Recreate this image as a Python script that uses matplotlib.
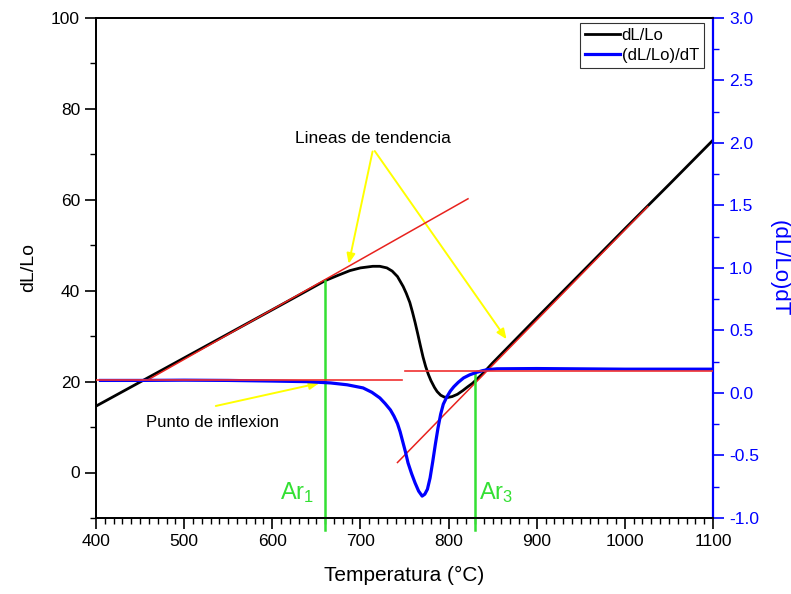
import matplotlib
matplotlib.use("Agg")
import matplotlib.pyplot as plt
from matplotlib.ticker import MultipleLocator, FormatStrFormatter

plt.rcParams['font.family'] = ['Liberation Sans', 'DejaVu Sans']
plt.rcParams['mathtext.fontset'] = 'custom'
plt.rcParams['mathtext.rm'] = 'Liberation Sans'
plt.rcParams['mathtext.it'] = 'Liberation Sans'

# dL/Lo curve (left axis)
T_dl = [400, 450, 500, 550, 600, 632, 660, 675, 688, 700, 714, 722, 730, 736, 742, 748.5,
        752, 756, 759, 762, 765, 768, 771, 774, 777, 780, 784, 787, 791, 795, 799, 804,
        810, 816, 822, 827, 832, 840, 850, 900, 950, 1000, 1050, 1100]
dl = [14.6, 19.9, 25.2, 30.5, 35.8, 39.2, 42.2, 43.4, 44.4, 45.0, 45.35, 45.35, 45.0, 44.3,
      43.1, 40.9, 39.4, 37.4, 35.3, 33.0, 30.5, 27.9, 25.4, 23.3, 21.6, 20.2, 18.7, 17.8,
      17.0, 16.6, 16.5, 16.7, 17.2, 18.0, 18.9, 19.6, 20.5, 22.0, 24.1, 34.0, 43.8, 53.6,
      63.3, 73.1]

# (dL/Lo)/dT curve (right axis)
T_d = [405, 450, 500, 550, 600, 640, 666, 685, 703, 713, 722, 728, 734, 738, 742, 745,
       748, 751, 754, 758, 762, 766, 770, 773, 776, 779, 782, 785, 788, 791, 794, 798,
       802, 806, 811, 817, 824, 832, 838, 844, 855, 900, 1000, 1100]
dd = [0.10, 0.10, 0.102, 0.10, 0.095, 0.09, 0.08, 0.065, 0.04, 0.005, -0.04, -0.085,
      -0.136, -0.185, -0.245, -0.31, -0.39, -0.47, -0.56, -0.645, -0.72, -0.785, -0.825,
      -0.81, -0.77, -0.68, -0.55, -0.41, -0.28, -0.17, -0.09, -0.032, 0.015, 0.05, 0.085,
      0.12, 0.145, 0.165, 0.177, 0.186, 0.193, 0.195, 0.19, 0.19]

# trend lines
tend1_T = [460, 822]
tend1_v = [20.5, 60.2]
tend2_T = [742, 1026]
tend2_v = [2.2, 58.5]
hline1_T = [400, 747]
hline1_v = [0.107, 0.107]
hline2_T = [751, 1100]
hline2_v = [0.176, 0.176]

# transformation temperatures
Ar1_T, Ar1_top = 660, 42.2
Ar3_T, Ar3_top = 830, 22.2

fig = plt.figure(figsize=(7.91, 5.94), dpi=100)
ax = fig.add_axes([0.1214, 0.128, 0.780, 0.842])
ax2 = ax.twinx()

blue = '#0000ff'
green = '#33e033'
red = '#e8221e'

l1, = ax.plot(T_dl, dl, color='black', lw=2.0, zorder=3, solid_joinstyle='round')
ax.plot(tend1_T, tend1_v, color=red, lw=1.1, zorder=4)
ax.plot(tend2_T, tend2_v, color=red, lw=1.1, zorder=4)

l2, = ax2.plot(T_d, dd, color=blue, lw=2.3, zorder=3, solid_joinstyle='round')
ax2.plot(hline1_T, hline1_v, color='#f03030', lw=1.2, zorder=4)
ax2.plot(hline2_T, hline2_v, color='#f03030', lw=1.2, zorder=4)

# green vertical lines (extend slightly below axis)
ax.plot([Ar1_T, Ar1_T], [-12.6, Ar1_top], color=green, lw=1.8, clip_on=False, zorder=5)
ax.plot([Ar3_T, Ar3_T], [-12.6, Ar3_top], color=green, lw=1.8, clip_on=False, zorder=5)
ax.text(609, -4.5, 'Ar$_1$', color=green, fontsize=17, ha='left', va='center')
ax.text(835, -4.5, 'Ar$_3$', color=green, fontsize=17, ha='left', va='center')

# annotations
ax.text(714, 73.5, 'Lineas de tendencia', fontsize=12.5, ha='center', va='center')
arrow_kw = dict(arrowstyle='-|>,head_length=0.6,head_width=0.25', color='#ffff00', lw=1.4)
ax.annotate('', xy=(686, 45.3), xytext=(714.4, 71.2), arrowprops=arrow_kw)
ax.annotate('', xy=(867.6, 28.8), xytext=(714.4, 71.2), arrowprops=arrow_kw)
ax.text(532, 11, 'Punto de inflexion', fontsize=12, ha='center', va='center')
ax.annotate('', xy=(656.5, 19.8), xytext=(532.8, 14.5), arrowprops=arrow_kw)

ax.set_xlim(400, 1100)
ax.set_ylim(-10, 100)
ax2.set_ylim(-1.0, 3.0)

ax.xaxis.set_major_locator(MultipleLocator(100))
ax.xaxis.set_minor_locator(MultipleLocator(10))
ax.yaxis.set_major_locator(MultipleLocator(20))
ax.yaxis.set_minor_locator(MultipleLocator(10))
ax2.yaxis.set_major_locator(MultipleLocator(0.5))
ax2.yaxis.set_minor_locator(MultipleLocator(0.25))
ax2.yaxis.set_major_formatter(FormatStrFormatter('%.1f'))

ax.tick_params(axis='both', which='major', direction='out', length=8, width=1.2,
               labelsize=12.5, right=False, top=False)
ax.tick_params(axis='both', which='minor', direction='out', length=4, width=1.0,
               right=False, top=False)
ax2.tick_params(axis='y', which='major', direction='out', length=8, width=1.2,
                colors=blue, labelsize=12.5)
ax2.tick_params(axis='y', which='minor', direction='out', length=4, width=1.0, colors=blue)

for s in ['left', 'bottom', 'top']:
    ax.spines[s].set_linewidth(1.3)
    ax2.spines[s].set_linewidth(1.3)
ax2.spines['right'].set_color(blue)
ax2.spines['right'].set_linewidth(1.6)
ax.spines['right'].set_visible(False)

ax.set_xlabel('Temperatura (°C)', fontsize=15, labelpad=12)
ax.set_ylabel('dL/Lo', fontsize=14, labelpad=10)
ax2.set_ylabel('(dL/Lo)dT', fontsize=16, color=blue, rotation=270, labelpad=22)

leg = ax2.legend([l1, l2], ['dL/Lo', '(dL/Lo)/dT'], loc='upper right',
                 bbox_to_anchor=(0.985, 0.99), fontsize=12, frameon=True, fancybox=False,
                 handlelength=2.1, handletextpad=0.1, borderpad=0.3, labelspacing=0.3,
                 borderaxespad=0.0)
leg.get_frame().set_edgecolor('black')
leg.get_frame().set_linewidth(0.8)

fig.savefig('out.png', dpi=100)
